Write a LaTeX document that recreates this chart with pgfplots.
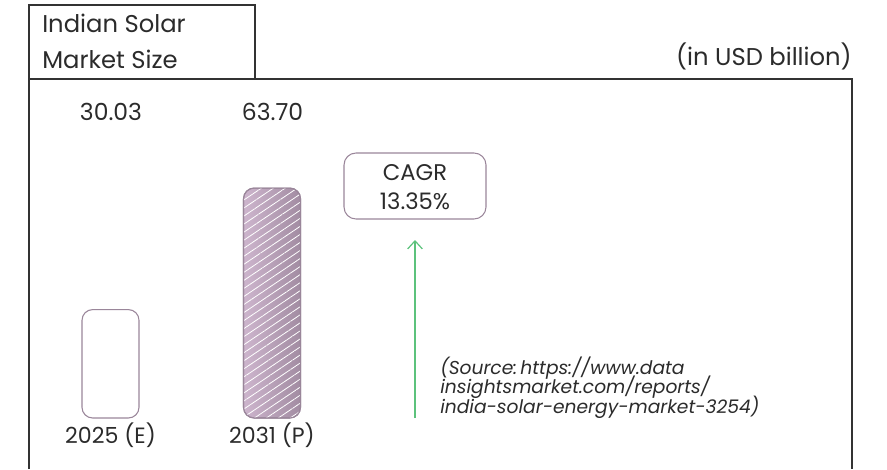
\documentclass[border=0pt]{standalone}
\usepackage{pgfplots}
\pgfplotsset{compat=1.18}
\usepackage{fontspec}
\setmainfont{Poppins}
\usetikzlibrary{patterns.meta,arrows.meta}
\definecolor{txt}{HTML}{2B2B2B}
\definecolor{frame}{HTML}{333333}
\definecolor{barL}{HTML}{CDB5CD}
\definecolor{barR}{HTML}{A28CA2}
\definecolor{barE}{HTML}{9A869A}
\definecolor{arr}{HTML}{5CC27C}
\begin{document}
\begin{tikzpicture}
\useasboundingbox (0,0) rectangle (665.25pt,351.75pt);
\begin{axis}[
  at={(0,0)}, anchor=south west,
  scale only axis, width=665.25pt, height=351.75pt,
  xmin=0, xmax=887, ymin=-14.13, ymax=115.79,
  axis lines=none, clip=false,
]
\addplot[ybar, bar width=42.75pt, bar shift=0pt, draw=barE, line width=0.8pt, fill=white, rounded corners=8pt]
  coordinates {(110.5,30.03)};
\addplot[ybar, bar width=42.75pt, bar shift=0pt, draw=barE, line width=0.8pt, left color=barL, right color=barR, rounded corners=8pt]
  coordinates {(272,63.70)};
\addplot[ybar, bar width=42.75pt, bar shift=0pt, draw=none, rounded corners=8pt,
  pattern={Lines[angle=34,distance=5pt,line width=0.6pt]}, pattern color=white]
  coordinates {(272,63.70)};
\addplot[ybar, bar width=42.75pt, bar shift=0pt, draw=barE, line width=0.8pt, fill=none, rounded corners=8pt]
  coordinates {(272,63.70)};
\end{axis}
\begin{scope}[x=0.75pt,y=0.75pt]
  % main frame
  \draw[frame, line width=1.1pt] (29,0) -- (29,390) -- (852,390) -- (852,0);
  % title box
  \draw[frame, line width=0.8pt] (29,390) -- (29,464) -- (255,464) -- (255,390);
  \node[anchor=base west, inner sep=0pt, text=txt, font=\fontsize{18.2}{20}\selectfont] at (42,436) {Indian Solar};
  \node[anchor=base west, inner sep=0pt, text=txt, font=\fontsize{18.2}{20}\selectfont] at (42,401) {Market Size};
  \node[anchor=base east, inner sep=0pt, text=txt, font=\fontsize{18.2}{20}\selectfont] at (852,404) {(in USD billion)};
  % values
  \node[anchor=base, inner sep=0pt, text=txt, font=\fontsize{17.6}{20}\selectfont] at (111,349) {30.03};
  \node[anchor=base, inner sep=0pt, text=txt, font=\fontsize{17.6}{20}\selectfont] at (272.5,349) {63.70};
  % CAGR box
  \draw[barE, line width=0.8pt, rounded corners=9pt] (344,316) rectangle (486,250);
  \node[anchor=base, inner sep=0pt, text=txt, font=\fontsize{17}{18}\selectfont] at (415,289) {CAGR};
  \node[anchor=base, inner sep=0pt, text=txt, font=\fontsize{17}{18}\selectfont] at (415,260) {13.35\%};
  % arrow
  \draw[arr, line width=0.9pt, -{Straight Barb[length=6pt,width=11pt]}] (415,51) -- (415,229);
  % source
  \node[anchor=base west, inner sep=0pt, text=txt, font=\fontsize{14}{16}\selectfont\itshape] at (440,95) {(Source:\,https://www.data};
  \node[anchor=base west, inner sep=0pt, text=txt, font=\fontsize{14}{16}\selectfont\itshape] at (440,76) {insightsmarket.com/reports/};
  \node[anchor=base west, inner sep=0pt, text=txt, font=\fontsize{14}{16}\selectfont\itshape] at (440,56) {india-solar-energy-market-3254)};
  % x labels
  \node[anchor=base, inner sep=0pt, text=txt, font=\fontsize{16.6}{18}\selectfont] at (110.5,26) {2025 (E)};
  \node[anchor=base, inner sep=0pt, text=txt, font=\fontsize{16.6}{18}\selectfont] at (272,26) {2031 (P)};
\end{scope}
\end{tikzpicture}
\end{document}
